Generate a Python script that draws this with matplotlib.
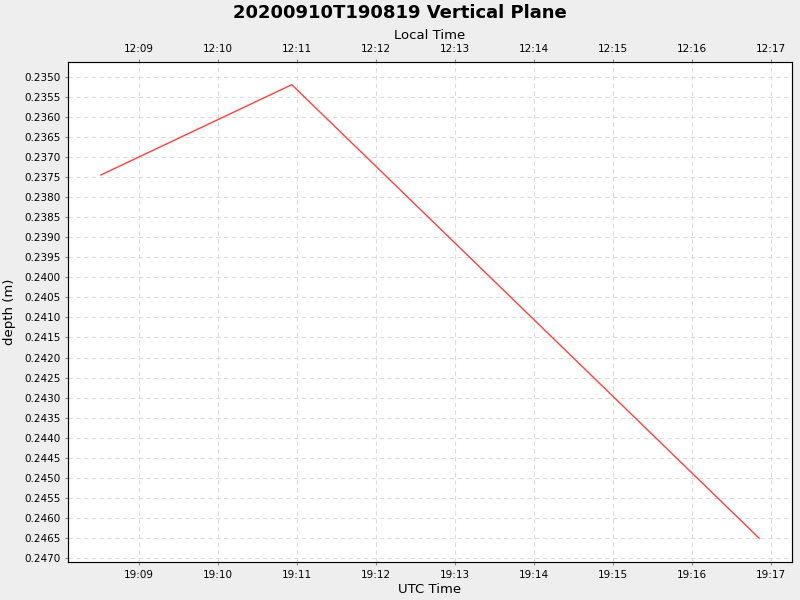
import matplotlib
matplotlib.use("Agg")
import matplotlib.pyplot as plt
import matplotlib.dates as mdates
from datetime import datetime, timedelta

times = ["2020-09-10 19:08:31", "2020-09-10 19:10:56", "2020-09-10 19:16:51"]
depth = [0.23745, 0.2352, 0.2465]

t = [datetime.strptime(s, "%Y-%m-%d %H:%M:%S") for s in times]
fig = plt.figure(figsize=(8, 6), dpi=100, facecolor="#EEEEEE")
ax = fig.add_axes([0.085, 0.063, 0.905, 0.834])
ax.set_facecolor("white")
ax.plot(t, depth, color="#FF4040", lw=1)
x0 = datetime(2020, 9, 10, 19, 8, 6)
x1 = datetime(2020, 9, 10, 19, 17, 16)
ax.set_xlim(x0, x1)
ax.set_ylim(0.24710, 0.23463)
ax.yaxis.set_major_locator(plt.MultipleLocator(0.0005))
ax.yaxis.set_major_formatter(plt.FormatStrFormatter("%.4f"))
ax.xaxis.set_major_locator(mdates.MinuteLocator())
ax.xaxis.set_major_formatter(mdates.DateFormatter("%H:%M"))
ax.grid(True, color="#DDDDDD", ls=(0, (4, 3)), lw=0.8)
ax.tick_params(labelsize=7.5, length=2, color="#888888")
ax.set_xlabel("UTC Time", fontsize=9.5, labelpad=2)
ax.set_ylabel("depth (m)", fontsize=9.5, labelpad=6)
for s in ax.spines.values():
    s.set_color("#888888")

ax2 = ax.twiny()
ax2.set_xlim(x0 - timedelta(hours=7), x1 - timedelta(hours=7))
ax2.xaxis.set_major_locator(mdates.MinuteLocator())
ax2.xaxis.set_major_formatter(mdates.DateFormatter("%H:%M"))
ax2.tick_params(labelsize=7.5, length=2, color="#888888")
ax2.set_xlabel("Local Time", fontsize=9.5, labelpad=4)
fig.suptitle("20200910T190819 Vertical Plane", fontsize=13, fontweight="bold", y=0.993)
fig.savefig("out.png", facecolor=fig.get_facecolor())
